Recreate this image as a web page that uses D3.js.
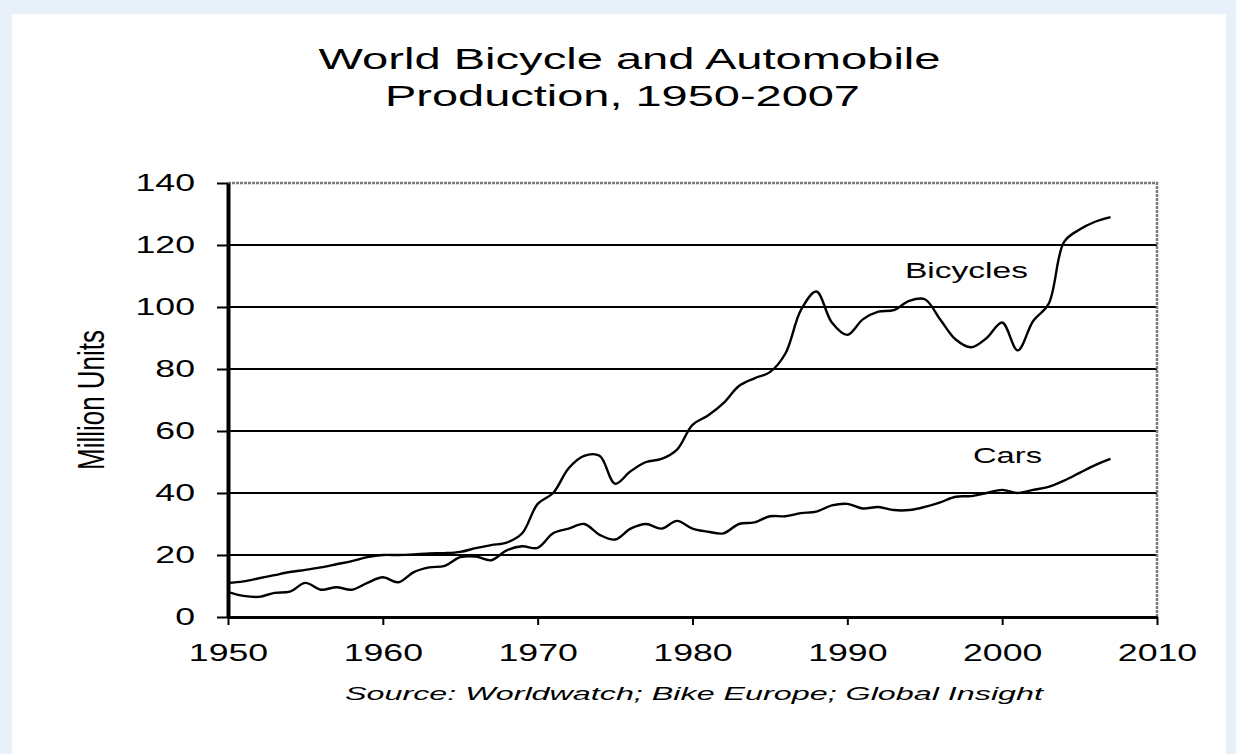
<!DOCTYPE html>
<html>
<head>
<meta charset="utf-8">
<script src="https://cdn.jsdelivr.net/npm/d3@7"></script>
<style>
    body { margin: 0; background: #e8f0fa; }
    svg { display: block; }
    text { font-family: "Liberation Sans", Arial, sans-serif; fill: #000; }
</style>
</head>
<body>
<div id="chart"></div>
<script>
// data (million units)
const years = d3.range(1950, 2008);
const bicycles = [
    11, 11.5, 12.5, 13.5, 14.5, 15.2, 16, 17, 18, 19.3,
    20, 20, 20.2, 20.5, 20.6, 21, 22.2, 23.2, 24, 27,
    36.5, 40, 48, 52, 52, 43, 47, 50, 51, 54,
    62, 65, 69, 74.5, 77, 79, 85, 99, 105, 95,
    91, 96, 98.5, 99, 102, 102.5, 96, 89.5, 87, 90,
    95, 86, 95.5, 101, 121, 125, 127.5, 129
];
const cars = [
    8, 6.8, 6.5, 7.8, 8.2, 11, 8.8, 9.6, 8.8, 11,
    12.8, 11.2, 14.5, 16, 16.5, 19.3, 19.5, 18.3, 21.5, 22.8,
    22.3, 27, 28.5, 30, 26.5, 25, 28.5, 30, 28.5, 31,
    28.5, 27.5, 27, 30, 30.5, 32.5, 32.5, 33.5, 34, 36,
    36.5, 35, 35.5, 34.5, 34.5, 35.5, 37, 38.8, 39, 40,
    41, 40, 41, 42, 44, 46.5, 49, 51
];
const xTicks = [1950, 1960, 1970, 1980, 1990, 2000, 2010];
const yTicks = [0, 20, 40, 60, 80, 100, 120, 140];

const width = 1236, height = 754;
const plot = {left: 228, right: 1157, top: 183, bottom: 617};

const svg = d3.select("#chart").append("svg")
    .attr("width", width)
    .attr("height", height);

// white chart area on the blue page
svg.append("rect")
    .attr("x", 12).attr("y", 14)
    .attr("width", 1214).attr("height", height - 14)
    .attr("fill", "#fff");

const x = d3.scaleLinear().domain([1950, 2010]).range([plot.left, plot.right]);
const y = d3.scaleLinear().domain([0, 140]).range([plot.bottom, plot.top]);

// stretch text horizontally like the original bitmap
function stretch(sel, k) {
    sel.each(function() {
        const len = this.getComputedTextLength();
        d3.select(this).attr("textLength", len * k).attr("lengthAdjust", "spacingAndGlyphs");
    });
}

// grid lines
svg.append("g")
    .selectAll("line")
    .data(yTicks.filter(d => d > 0 && d < 140))
    .enter().append("line")
        .attr("x1", plot.left).attr("x2", plot.right)
        .attr("y1", d => y(d)).attr("y2", d => y(d))
        .attr("stroke", "#000")
        .attr("stroke-width", 2);

// dotted top and right border
svg.append("path")
    .attr("d", `M${plot.left},${plot.top}H${plot.right}V${plot.bottom}`)
    .attr("fill", "none")
    .attr("stroke", "#7a7a7a")
    .attr("stroke-width", 2.5)
    .attr("stroke-dasharray", "3,1");

// series
const line = d3.line()
    .x((d, i) => x(years[i]))
    .y(d => y(d))
    .curve(d3.curveCatmullRom.alpha(0.5));

[bicycles, cars].forEach(series => {
    svg.append("path")
        .datum(series)
        .attr("d", line)
        .attr("fill", "none")
        .attr("stroke", "#000")
        .attr("stroke-width", 2.4);
});

// axes
const yAxis = svg.append("g")
    .attr("transform", `translate(${plot.left},0)`)
    .call(d3.axisLeft(y).tickValues(yTicks).tickSize(11).tickSizeOuter(0).tickPadding(22));
yAxis.select(".domain").attr("stroke-width", 4);
yAxis.selectAll(".tick line").attr("stroke-width", 2);
yAxis.selectAll("text")
    .style("font-size", "23px")
    .call(stretch, 1.55);

const xAxis = svg.append("g")
    .attr("transform", `translate(0,${plot.bottom})`)
    .call(d3.axisBottom(x).tickValues(xTicks).tickFormat(d3.format("d")).tickSize(8).tickSizeOuter(0));
xAxis.select(".domain").attr("stroke-width", 3);
xAxis.selectAll(".tick line").attr("stroke-width", 2);
xAxis.selectAll("text")
    .attr("y", 44)
    .attr("dy", null)
    .style("font-size", "23px")
    .call(stretch, 1.55);
svg.selectAll(".tick text").attr("font-size", null).attr("font-family", null);

// titles and labels
function label(txt, px, py, size, len, anchor) {
    return svg.append("text")
        .attr("x", px).attr("y", py)
        .attr("text-anchor", anchor || "middle")
        .style("font-size", size + "px")
        .attr("textLength", len)
        .attr("lengthAdjust", "spacingAndGlyphs")
        .text(txt);
}

label("World Bicycle and Automobile", 629.5, 69, 29, 622);
label("Production, 1950-2007", 622.5, 106, 29, 475);
label("Bicycles", 905, 278, 22, 123, "start");
label("Cars", 973, 463, 22, 69, "start");
label("Source: Worldwatch; Bike Europe; Global Insight", 694, 700, 18, 698)
    .style("font-style", "italic");

svg.append("text")
    .attr("transform", "translate(91,400) scale(1.55,1) rotate(-90)")
    .attr("text-anchor", "middle")
    .attr("dy", "0.35em")
    .style("font-size", "24px")
    .attr("textLength", 140)
    .attr("lengthAdjust", "spacingAndGlyphs")
    .text("Million Units");
</script>
</body>
</html>
